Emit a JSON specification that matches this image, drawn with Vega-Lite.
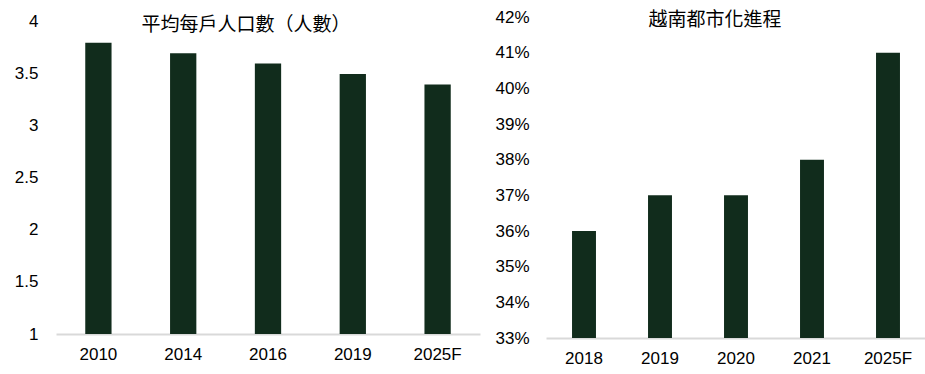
{
  "$schema": "https://vega.github.io/schema/vega-lite/v6.json",
  "padding": {"left": 14, "top": 8, "right": 0, "bottom": 0},
  "background": "white",
  "spacing": 14,
  "datasets": {
    "household": [
      {"year": "2010", "value": 3.8},
      {"year": "2014", "value": 3.7},
      {"year": "2016", "value": 3.6},
      {"year": "2019", "value": 3.5},
      {"year": "2025F", "value": 3.4}
    ],
    "urban": [
      {"year": "2018", "value": 0.36},
      {"year": "2019", "value": 0.37},
      {"year": "2020", "value": 0.37},
      {"year": "2021", "value": 0.38},
      {"year": "2025F", "value": 0.41}
    ]
  },
  "hconcat": [
    {
      "width": 424,
      "height": 317,
      "data": {"name": "household"},
      "title": {"text": "平均每戶人口數（人數）", "dx": -22, "dy": 31, "offset": 0, "baseline": "middle"},
      "mark": {"type": "bar", "color": "#112c1c", "clip": true},
      "encoding": {
        "x": {
          "field": "year", "type": "nominal", "sort": null, "title": null,
          "scale": {"paddingInner": 0.69, "paddingOuter": 0.345},
          "axis": {"labelAngle": 0}
        },
        "y": {
          "field": "value", "type": "quantitative", "title": null,
          "scale": {"domain": [1, 4.048], "nice": false, "zero": false},
          "axis": {"values": [1, 1.5, 2, 2.5, 3, 3.5, 4], "format": ".1~f", "domain": false, "labelPadding": 18}
        }
      }
    },
    {
      "width": 380,
      "height": 321,
      "data": {"name": "urban"},
      "title": {"text": "越南都市化進程", "dx": -21, "dy": 31, "offset": 0, "baseline": "middle"},
      "mark": {"type": "bar", "color": "#112c1c", "clip": true},
      "encoding": {
        "x": {
          "field": "year", "type": "nominal", "sort": null, "title": null,
          "scale": {"paddingInner": 0.685, "paddingOuter": 0.3425},
          "axis": {"labelAngle": 0}
        },
        "y": {
          "field": "value", "type": "quantitative", "title": null,
          "scale": {"domain": [0.33, 0.42], "nice": false, "zero": false},
          "axis": {"values": [0.33, 0.34, 0.35, 0.36, 0.37, 0.38, 0.39, 0.4, 0.41, 0.42], "format": ".0%", "domain": false, "labelPadding": 17}
        }
      }
    }
  ],
  "config": {
    "view": {"stroke": null},
    "axis": {
      "grid": false,
      "ticks": false,
      "tickSize": 0,
      "labelFont": "Liberation Sans",
      "labelFontSize": 17,
      "labelColor": "#000000",
      "domainColor": "#d9d9d9",
      "domainWidth": 2
    },
    "axisX": {"labelPadding": 12},
    "title": {
      "font": "Noto Sans CJK TC",
      "fontSize": 19,
      "fontWeight": "normal",
      "color": "#000000",
      "anchor": "middle"
    }
  }
}
